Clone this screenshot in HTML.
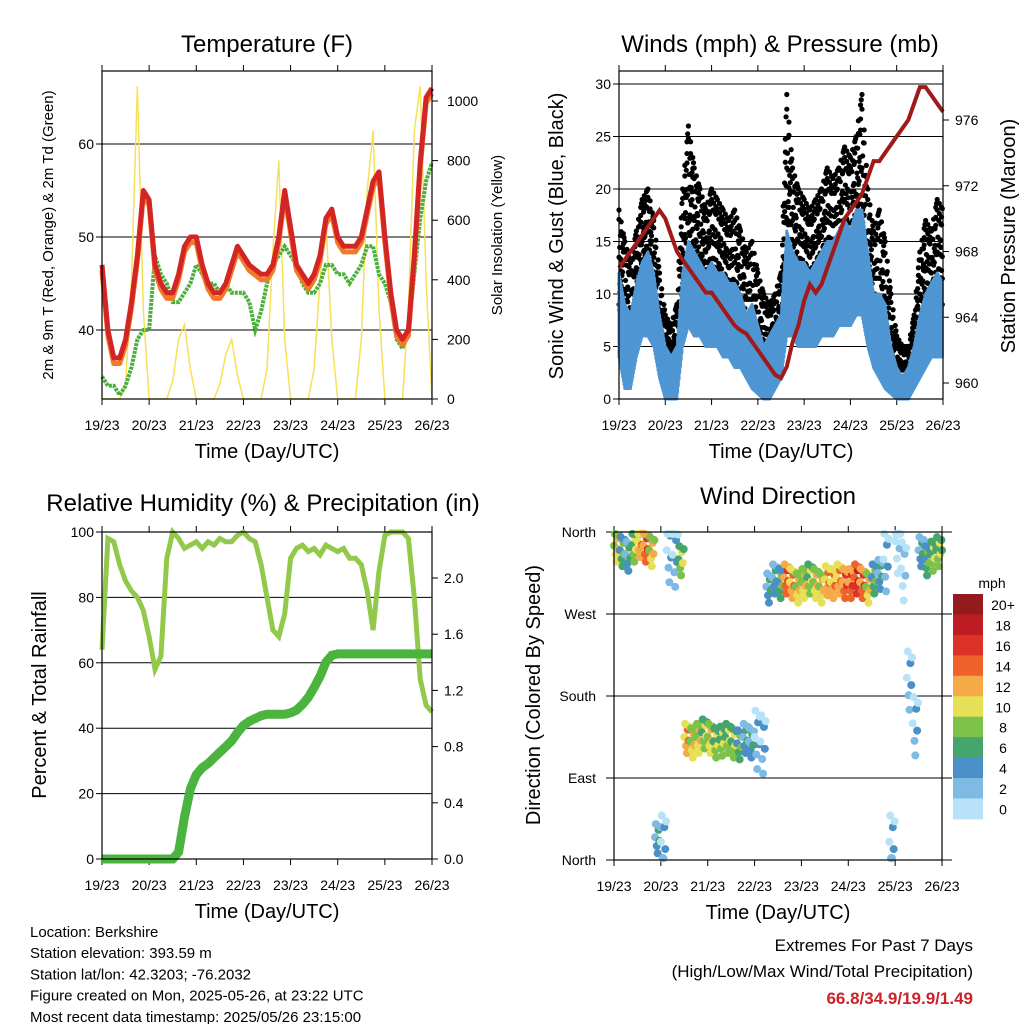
<!DOCTYPE html>
<html><head><meta charset="utf-8"><style>
html,body{margin:0;padding:0;background:#fff;}
svg{display:block;font-family:"Liberation Sans",Arial,sans-serif;}
</style></head><body>
<svg id="c" width="1024" height="1024" viewBox="0 0 1024 1024"></svg>
<script>
// ---- data (3-hourly from 19/23 UTC, 57 samples) ----
const dayLabels=["19/23","20/23","21/23","22/23","23/23","24/23","25/23","26/23"];
const tempRed=[47,40,37,37,39,43,48,55, 54,47,45,44,44,46,49,50, 50,47,45,44,44,45,47,49, 48,47,46.5,46,46,47,50,55, 51,47,46,45,46,48,52,53, 50,49,49,49,50,53,56,57, 50,44,40,39,40,48,58,65, 66];
const tempDew=[35,34,34,33,34,36,39,40, 40,48,46,45,43,43,44,45, 47,46,45,45,44,45,44,44, 44,43,40,42,45,47,48,49, 48,47,45,44,44,45,47,47, 46,46,45,46,47,49,49,46, 45,43,39,38,40,46,52,56, 58];
const solar=[0,0,0,0,50,400,1050,300, 0,0,0,0,60,200,250,100, 0,0,0,0,50,150,200,80, 0,0,0,0,100,500,800,200, 0,0,0,0,100,400,600,200, 0,0,0,0,200,700,900,300, 0,0,0,0,300,900,1050,400, 0];
const gustHi=[18,15,13,16,19,20,17,12, 8,7,9,20,26,22,20,18, 20,19,18,17,18,16,14,15, 12,10,9,10,12,29,22,20, 19,18,19,20,22,21,22,24, 23,25,29,20,16,18,15,10, 6,5,5,8,14,17,16,19, 18];
const gustLo=[9,5,4,9,11,12,10,5, 3,2,2,11,14,12,11,10, 10,10,9,8,8,7,5,4, 2,1,2,3,5,15,12,10, 10,9,10,11,12,12,12,14, 13,14,15,10,7,5,4,2, 0.5,0.5,1,3,6,8,8,9, 9];
const windHi=[12,9,8,11,13,14,12,8, 5,4,5,12,15,14,13,12, 13,12,12,11,11,10,8,9, 7,5,6,7,8,16,14,13, 13,12,13,14,15,15,16,17, 16,18,18,14,10,10,9,5, 3,2,3,5,8,10,11,12, 11];
const windLo=[4,1,1,4,6,6,5,2, 0,0,0,5,7,6,6,5, 5,5,4,4,3,3,2,1, 0.5,0,0,1,2,6,6,5, 5,5,5,6,6,6,7,7, 7,8,8,5,3,2,1,0.5, 0,0,0,1,2,3,4,4, 4];
const pressure=[967,967.5,968,968.5,969,969.5,970,970.5, 970,969,968,967.5,967,966.5,966,965.5, 965.5,965,964.5,964,963.5,963.2,963,962.5, 962,961.5,961,960.5,960.3,961,962.5,963.5, 965,966,965.5,966,967,968,969,970, 970.5,971,971.5,972.5,973.5,973.5,974,974.5, 975,975.5,976,977,978,978,977.5,977, 976.5];
const rh=[64,98,97,90,85,82,80,76, 68,58,62,92,100,98,95,96, 97,95,97,96,98,97,97,99, 100,98,97,90,80,70,68,75, 92,95,96,94,95,93,96,95, 94,95,92,92,90,82,70,88, 99,100,100,100,98,80,55,47, 45];
const rain=[0,0,0,0,0,0,0,0, 0,0,0,0,0,0.05,0.3,0.5, 0.6,0.65,0.68,0.72,0.76,0.8,0.84,0.9, 0.95,0.98,1.0,1.02,1.03,1.03,1.03,1.03, 1.04,1.06,1.1,1.15,1.22,1.3,1.4,1.45, 1.46,1.46,1.46,1.46,1.46,1.46,1.46,1.46, 1.46,1.46,1.46,1.46,1.46,1.46,1.46,1.46, 1.46];
const windDir=[345,340,335,345,350,345,340,25, 20,340,335,330,135,130,135,140, 135,130,132,135,130,128,135,130, 135,130,300,310,305,310,305,300, 305,310,305,300,308,305,310,305, 305,310,305,300,310,315,330,20, 350,320,200,150,340,330,335,340, 340];
const windSpd=[10,6,5,9,12,14,10,5, 3,2,3,9,12,11,10,9, 10,9,9,8,8,7,5,4, 3,2,4,5,6,14,12,11, 10,9,10,11,12,12,13,15, 14,16,15,10,6,4,3,2, 1,1,2,3,5,7,8,9, 8];
const cbLabels=["20+","18","16","14","12","10","8","6","4","2","0"];
const cbColors=["#951a1d","#bd1c23","#dc3228","#ef622b","#f6aa47","#e5e055","#7cc14a","#46a56c","#4a8fc6","#7ebae4","#b7e2f7"];

const S=document.getElementById('c');const NS="http://www.w3.org/2000/svg";
function mk(tag,attrs,parent){const e=document.createElementNS(NS,tag);for(const k in attrs)e.setAttribute(k,attrs[k]);(parent||S).appendChild(e);return e;}
function txt(x,y,s,size,opts){const o=Object.assign({x:x,y:y,'font-size':size,fill:'#000'},opts||{});const t=mk('text',o);t.textContent=s;return t;}
function lin(a,b,c,d){return (v)=>c+(v-a)*(d-c)/(b-a);}

function panel(name,x0,x1,y0,y1){
  const g=mk('g',{});
  
  
  const tx=lin(0,7,x0,x1);
  dayLabels.forEach((l,i)=>{const x=tx(i);
    mk('line',{x1:x,x2:x,y1:y0,y2:y0-6,stroke:'#000','stroke-width':1},g);
    mk('line',{x1:x,x2:x,y1:y1,y2:y1+6,stroke:'#000','stroke-width':1},g);
    const t=txt(x,y1+31,l,14,{'text-anchor':'middle'});g.appendChild(t);
    
    
  });
  const t=txt((x0+x1)/2,y1+59,'Time (Day/UTC)',20,{'text-anchor':'middle'});g.appendChild(t);
  
  
  return {g,tx};
}
function frame(g,x0,x1,y0,y1){mk('rect',{x:x0,y:y0,width:x1-x0,height:y1-y0,fill:'none',stroke:'#000','stroke-width':1.2},g);}
function pathOf(arr,tx,ty){return arr.map((v,i)=>(i?'L':'M')+tx(i/8).toFixed(1)+','+ty(v).toFixed(1)).join('');}

// ===== Panel 1 Temperature =====
(function(){
const x0=102,x1=432,y0=71,y1=399;
const {g,tx}=panel('temperature-panel',x0,x1,y0,y1);
const ty=lin(40,60,330,144), ts=lin(0,1000,399,101);
[40,50,60].forEach(v=>{mk('line',{x1:x0,x2:x1,y1:ty(v),y2:ty(v),stroke:'#000','stroke-width':1},g);
 txt(x0-8,ty(v)+5,String(v),14,{'text-anchor':'end'});mk('line',{x1:x0-6,x2:x0,y1:ty(v),y2:ty(v),stroke:'#000'},g);});
[0,200,400,600,800,1000].forEach(v=>{txt(x1+15,ts(v)+5,String(v),14);mk('line',{x1:x1,x2:x1+6,y1:ts(v),y2:ts(v),stroke:'#000'},g);});
const sp=mk('path',{d:pathOf(solar,tx,ts),fill:'none',stroke:'#f7e05a','stroke-width':1.5},g);

const dp=mk('path',{d:pathOf(tempDew,tx,ty),fill:'none',stroke:'#4ab03a','stroke-width':4,'stroke-dasharray':'3 1'},g);

const op=mk('path',{d:pathOf(tempRed.map(v=>v-0.6),tx,ty),fill:'none',stroke:'#f07a2a','stroke-width':5,'stroke-linejoin':'round'},g);

const rp=mk('path',{d:pathOf(tempRed,tx,ty),fill:'none',stroke:'#d42525','stroke-width':5,'stroke-linejoin':'round'},g);

frame(g,x0,x1,y0,y1);
txt(267,52,'Temperature (F)',24,{'text-anchor':'middle'});
txt(0,0,'2m & 9m T (Red, Orange) & 2m Td (Green)',15,{'text-anchor':'middle',transform:'translate(53,235) rotate(-90)'});
txt(0,0,'Solar Insolation (Yellow)',15,{'text-anchor':'middle',transform:'translate(502,235) rotate(-90)'});
})();

// ===== Panel 2 Winds =====
(function(){
const x0=619,x1=943,y0=71,y1=399;
const {g,tx}=panel('winds-panel',x0,x1,y0,y1);
const ty=lin(0,30,399,84), tp=lin(960,976,383,120);
[5,10,15,20,25,30].forEach(v=>mk('line',{x1:x0,x2:x1,y1:ty(v),y2:ty(v),stroke:'#000','stroke-width':1},g));
[0,5,10,15,20,25,30].forEach(v=>{txt(x0-8,ty(v)+5,String(v),14,{'text-anchor':'end'});mk('line',{x1:x0-6,x2:x0,y1:ty(v),y2:ty(v),stroke:'#000'},g);});
[960,964,968,972,976].forEach(v=>{txt(x1+12,tp(v)+5,String(v),14);mk('line',{x1:x1,x2:x1+6,y1:tp(v),y2:tp(v),stroke:'#000'},g);});
const gg=mk('g',{},g);
const wg=mk('g',{},g);
const fr=[0,0.18,0.35,0.5,0.65,0.82,1,0.27,0.58,0.9];
for(let i=0;i<gustHi.length-1;i++){
  for(let k=0;k<8;k++){const f=k/8;const x=tx((i+f)/8);
    const hi=gustHi[i]+(gustHi[i+1]-gustHi[i])*f, lo=gustLo[i]+(gustLo[i+1]-gustLo[i])*f;
    for(let j=0;j<4;j++){const q=fr[(j*3+k)%fr.length];
      mk('circle',{cx:x,cy:ty(lo+(hi-lo)*q),r:2.6,fill:'#000'},gg);}
    const wh=windHi[i]+(windHi[i+1]-windHi[i])*f, wl=windLo[i]+(windLo[i+1]-windLo[i])*f;
    mk('line',{x1:x,x2:x,y1:ty(wh),y2:ty(wl),stroke:'#4f96d3','stroke-width':3,'stroke-linecap':'round'},wg);
  }
}
const pp=mk('path',{d:pathOf(pressure,tx,tp),fill:'none',stroke:'#a11a1a','stroke-width':4},g);

frame(g,x0,x1,y0,y1);
txt(780,52,'Winds (mph) & Pressure (mb)',24,{'text-anchor':'middle'});
txt(0,0,'Sonic Wind & Gust (Blue, Black)',20,{'text-anchor':'middle',transform:'translate(563,236) rotate(-90)'});
txt(0,0,'Station Pressure (Maroon)',20,{'text-anchor':'middle',transform:'translate(1015,236) rotate(-90)'});
})();

// ===== Panel 3 RH & Precip =====
(function(){
const x0=102,x1=432,y0=532,y1=859;
const {g,tx}=panel('humidity-panel',x0,x1,y0,y1);
const ty=lin(0,100,859,532), tr=lin(0,2,859,578);
[20,40,60,80,100].forEach(v=>mk('line',{x1:x0,x2:x1,y1:ty(v),y2:ty(v),stroke:'#000','stroke-width':1},g));
[0,20,40,60,80,100].forEach(v=>{txt(x0-8,ty(v)+5,String(v),14,{'text-anchor':'end'});mk('line',{x1:x0-6,x2:x0,y1:ty(v),y2:ty(v),stroke:'#000'},g);});
[0,0.4,0.8,1.2,1.6,2.0].forEach(v=>{txt(x1+12,tr(v)+5,v.toFixed(1),14);mk('line',{x1:x1,x2:x1+6,y1:tr(v),y2:tr(v),stroke:'#000'},g);});
const rp=mk('path',{d:pathOf(rh,tx,ty),fill:'none',stroke:'#93c94a','stroke-width':5},g);

const pp=mk('path',{d:pathOf(rain,tx,tr),fill:'none',stroke:'#4bb43e','stroke-width':9},g);

frame(g,x0,x1,y0,y1);
txt(263,511,'Relative Humidity (%) & Precipitation (in)',24,{'text-anchor':'middle'});
txt(0,0,'Percent & Total Rainfall',20,{'text-anchor':'middle',transform:'translate(46,695) rotate(-90)'});
})();

// ===== Panel 4 Wind Direction =====
(function(){
const x0=614,x1=942,y0=532,y1=860;
const {g,tx}=panel('wind-direction-panel',x0,x1,y0,y1);
const ty=lin(0,360,860,532);
const names=["North","East","South","West","North"];
[0,90,180,270,360].forEach((v,i)=>{mk('line',{x1:x0-8,x2:x1+10,y1:ty(v),y2:ty(v),stroke:'#000','stroke-width':1},g);
 txt(x0-18,ty(v)+5,names[i],14,{'text-anchor':'end'});});
const pg=mk('g',{},g);
const offs=[[0,0],[0.3,-12],[0.6,10],[0.15,18],[0.45,-22],[0.75,-5],[0.9,14]];
function col(s){const idx=Math.max(0,Math.min(10,Math.floor(s/2)));return cbColors[10-idx];}
for(let i=0;i<windDir.length;i++){
  offs.forEach((o,k)=>{const t=(i+o[0])/8;if(t>7)return;let d=windDir[i]+o[1]*(windSpd[i]<4?1.6:0.8);
    d=Math.max(2,Math.min(358,d));
    const s=windSpd[i]+(k%3-1)*2;
    mk('circle',{cx:tx(t),cy:ty(d),r:4,fill:col(Math.max(0,s))},pg);});
}
frame(g,x0,x1,y0,y1);
txt(778,504,'Wind Direction',24,{'text-anchor':'middle'});
txt(0,0,'Direction (Colored By Speed)',20,{'text-anchor':'middle',transform:'translate(540,695) rotate(-90)'});
const cb=mk('g',{});
txt(992,588,'mph',14,{'text-anchor':'middle'});
cbLabels.forEach((l,i)=>{const y=594+i*20.45;mk('rect',{x:953,y:y,width:30,height:20.9,fill:cbColors[i]},cb);
 txt(1003,y+16,l,14,{'text-anchor':'middle'});});
})();

// ===== Footer text =====
const info=["Location: Berkshire","Station elevation: 393.59 m","Station lat/lon: 42.3203; -76.2032","Figure created on Mon, 2025-05-26, at 23:22 UTC","Most recent data timestamp: 2025/05/26 23:15:00"];
info.forEach((s,i)=>{const t=txt(30,937+i*21.2,s,15);
 
 });
txt(973,951,'Extremes For Past 7 Days',17,{'text-anchor':'end'});
txt(973,977,'(High/Low/Max Wind/Total Precipitation)',17,{'text-anchor':'end'});
const ex=txt(973,1004,'66.8/34.9/19.9/1.49',17,{'text-anchor':'end',fill:'#cc2229','font-weight':'bold'});


</script>
</body></html>
